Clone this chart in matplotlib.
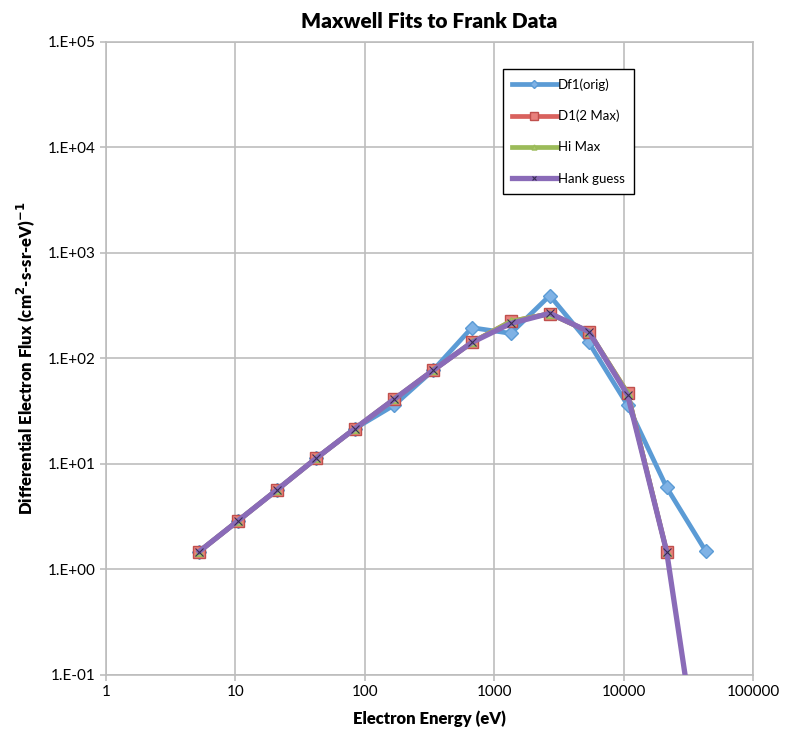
import numpy as np
import matplotlib.pyplot as plt
from matplotlib.ticker import FixedLocator, FixedFormatter, NullLocator

plt.rcParams['font.family'] = ['Lato', 'DejaVu Sans']

# Datos

energia = [5.25, 10.5, 21, 42, 84, 168, 336, 672, 1344, 2688, 5376, 10752, 21504, 43008]
df1_orig = [1.48, 2.9, 5.7, 11.3, 21.7, 36, 77, 196, 173, 395, 142, 36, 6.0, 1.5]

energia_fit = [5.25, 10.5, 21, 42, 84, 168, 336, 672, 1344, 2688, 5376, 10752, 21504]
d1_2max = [1.48, 2.9, 5.7, 11.3, 21.7, 41, 77, 142, 225, 266, 180, 47, 1.48]
hi_max = [1.48, 2.9, 5.7, 11.3, 21.7, 41, 77, 142, 225, 266, 180, 47, 1.48]

energia_hank = [5.25, 10.5, 21, 42, 84, 168, 336, 672, 1344, 2688, 5376, 10752, 21504, 43008]
hank_guess = [1.48, 2.9, 5.7, 11.3, 21.7, 41, 77, 142, 215, 268, 180, 45, 1.48, 0.005]

y_ticks = [1e-1, 1e0, 1e1, 1e2, 1e3, 1e4, 1e5]
y_labels = ['1.E-01', '1.E+00', '1.E+01', '1.E+02', '1.E+03', '1.E+04', '1.E+05']
x_ticks = [1, 10, 100, 1000, 10000, 100000]
x_labels = ['1', '10', '100', '1000', '10000', '100000']

# Figura

fig = plt.figure(figsize=(7.88, 7.42), dpi=100)
ax = fig.add_axes([0.1345, 0.0903, 0.8211, 0.8531])

ax.plot(energia, df1_orig, color='#5B9BD5', lw=3.4, marker='D', ms=7,
        mfc='#7FB2E5', mec='#5B9BD5', label='Df1(orig)', zorder=3)
ax.plot(energia_fit, d1_2max, color='#D9625E', lw=3.4, marker='s', ms=8.5,
        mfc='#E8807C', mec='#C0504D', label='D1(2 Max)', zorder=4)
ax.plot(energia_fit, hi_max, color='#9BBB59', lw=3.4, marker='^', ms=6,
        mfc='#A9C96A', mec='#9BBB59', label='Hi Max', zorder=5)
ax.plot(energia_hank, hank_guess, color='#8A6BB8', lw=3.8, marker='x', ms=6,
        mec='#3A2D55', mew=0.8, label='Hank guess', zorder=6)

ax.set_xscale('log')
ax.set_yscale('log')
ax.set_xlim(1, 100000)
ax.set_ylim(1e-1, 1e5)

ax.xaxis.set_major_locator(FixedLocator(x_ticks))
ax.xaxis.set_major_formatter(FixedFormatter(x_labels))
ax.xaxis.set_minor_locator(NullLocator())
ax.yaxis.set_major_locator(FixedLocator(y_ticks))
ax.yaxis.set_major_formatter(FixedFormatter(y_labels))
ax.yaxis.set_minor_locator(NullLocator())

ax.grid(True, color='#BDBDBD', lw=1.2)
ax.set_axisbelow(True)
for s in ax.spines.values():
    s.set_color('#BDBDBD')
    s.set_linewidth(1.2)
ax.tick_params(colors='#BDBDBD', labelcolor='black', labelsize=11, length=4, width=1.2)

ax.set_title('Maxwell Fits to Frank Data', fontsize=15, fontweight='heavy', pad=10)
ax.set_xlabel('Electron Energy (eV)', fontsize=12, fontweight='heavy', labelpad=8)
ax.set_ylabel('Differential Electron Flux (cm$^\\mathbf{2}$-s-sr-eV)$^\\mathbf{-1}$',
              fontsize=12, fontweight='heavy', labelpad=8)

leg = ax.legend(loc='upper left', bbox_to_anchor=(0.603, 0.968), fontsize=9.5,
                labelspacing=1.45, handlelength=3.4, handletextpad=0.1,
                borderpad=0.7, fancybox=False, framealpha=1, markerscale=0.6)
leg.get_frame().set_edgecolor('black')
leg.get_frame().set_linewidth(1.0)

plt.savefig('out.png', dpi=100)
